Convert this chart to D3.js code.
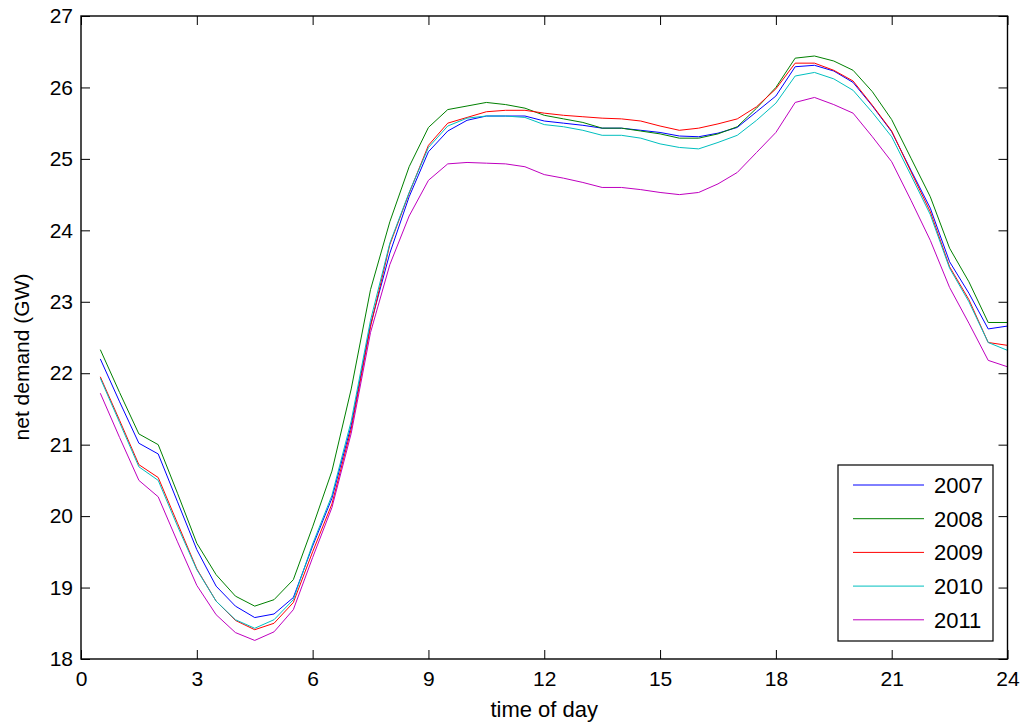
<!DOCTYPE html>
<html>
<head>
<meta charset="utf-8">
<script src="https://cdn.jsdelivr.net/npm/d3@7"></script>
<style>
  html, body { margin: 0; padding: 0; background: #fff; }
  svg { display: block; font-family: "Liberation Sans", Arial, Helvetica, sans-serif; }
</style>
</head>
<body>
<svg id="chart" width="1021" height="724"></svg>
<script>
// ---- data ----
const hours = d3.range(1, 49).map(i => i * 0.5); // 0.5 .. 24
const years = ["2007", "2008", "2009", "2010", "2011"];
const colors = ["#0000ff", "#008000", "#ff0000", "#00bfbf", "#bf00bf"];

const y2007 = [22.20,21.60,21.02,20.87,20.20,19.53,19.02,18.74,18.58,18.63,18.86,19.58,20.25,21.27,22.68,23.68,
  24.47,25.10,25.39,25.54,25.60,25.60,25.60,25.53,25.50,25.47,25.43,25.43,25.40,25.37,25.32,25.31,
  25.36,25.44,25.66,25.88,26.29,26.31,26.23,26.07,25.74,25.38,24.84,24.31,23.56,23.12,22.62,22.66];
const y2008 = [22.33,21.73,21.15,21.00,20.32,19.62,19.18,18.88,18.74,18.83,19.11,19.85,20.63,21.78,23.17,24.12,
  24.89,25.44,25.69,25.74,25.79,25.76,25.71,25.61,25.56,25.51,25.43,25.43,25.39,25.35,25.29,25.29,
  25.35,25.45,25.71,26.00,26.41,26.44,26.37,26.24,25.94,25.55,25.01,24.47,23.75,23.28,22.71,22.71];
const y2009 = [21.95,21.34,20.72,20.54,19.90,19.26,18.81,18.54,18.41,18.50,18.79,19.50,20.17,21.22,22.65,23.80,
  24.52,25.19,25.50,25.58,25.66,25.68,25.68,25.64,25.61,25.59,25.57,25.56,25.53,25.46,25.40,25.43,
  25.49,25.56,25.73,25.98,26.34,26.34,26.24,26.09,25.75,25.39,24.82,24.26,23.49,23.03,22.43,22.39];
const y2010 = [21.93,21.31,20.69,20.50,19.86,19.25,18.81,18.55,18.43,18.55,18.83,19.61,20.29,21.33,22.74,23.82,
  24.53,25.16,25.46,25.57,25.60,25.60,25.58,25.48,25.45,25.40,25.33,25.33,25.29,25.21,25.16,25.14,
  25.23,25.33,25.54,25.78,26.16,26.21,26.12,25.96,25.65,25.31,24.77,24.22,23.47,23.00,22.43,22.32];
const y2011 = [21.72,21.10,20.50,20.27,19.64,19.03,18.62,18.37,18.26,18.38,18.69,19.42,20.12,21.16,22.57,23.52,
  24.20,24.70,24.93,24.95,24.94,24.93,24.89,24.78,24.73,24.67,24.60,24.60,24.57,24.53,24.50,24.53,
  24.65,24.81,25.09,25.37,25.79,25.86,25.76,25.64,25.31,24.96,24.42,23.86,23.20,22.70,22.18,22.09];
const seriesValues = [y2007, y2008, y2009, y2010, y2011];

const xTicks = [0, 3, 6, 9, 12, 15, 18, 21, 24];
const yTicks = [18, 19, 20, 21, 22, 23, 24, 25, 26, 27];
const xLabel = "time of day";
const yLabel = "net demand (GW)";

// ---- layout ----
const W = 1021, H = 724;
const m = { left: 81, top: 16, right: 13.5, bottom: 65 };
const pw = W - m.left - m.right, ph = H - m.top - m.bottom;
const svg = d3.select("#chart");
const g = svg.append("g").attr("transform", `translate(${m.left},${m.top})`);

const x = d3.scaleLinear().domain([0, 24]).range([0, pw]);
const y = d3.scaleLinear().domain([18, 27]).range([ph, 0]);
const fs = 21;
const tl = 9;

// ticks (inward, all four sides)
function styleAxis(sel, showLabels) {
  sel.select(".domain").remove();
  sel.selectAll(".tick line").attr("stroke", "#000").attr("stroke-width", 1);
  if (!showLabels) sel.selectAll(".tick text").remove();
  else sel.selectAll(".tick text").attr("fill", "#000").style("font-size", fs + "px");
}
g.append("g").attr("transform", `translate(0,${ph})`)
  .call(d3.axisBottom(x).tickValues(xTicks).tickSizeInner(-tl).tickSizeOuter(0).tickPadding(12))
  .call(s => styleAxis(s, true));
g.append("g")
  .call(d3.axisTop(x).tickValues(xTicks).tickSizeInner(-tl).tickSizeOuter(0))
  .call(s => styleAxis(s, false));
g.append("g")
  .call(d3.axisLeft(y).tickValues(yTicks).tickSizeInner(-tl).tickSizeOuter(0).tickPadding(8))
  .call(s => styleAxis(s, true));
g.append("g").attr("transform", `translate(${pw},0)`)
  .call(d3.axisRight(y).tickValues(yTicks).tickSizeInner(-tl).tickSizeOuter(0))
  .call(s => styleAxis(s, false));

// lines
const line = d3.line().x((d, i) => x(hours[i])).y(d => y(d));
seriesValues.forEach((vals, k) => {
  g.append("path").datum(vals)
    .attr("fill", "none").attr("stroke", colors[k]).attr("stroke-width", 1)
    .attr("d", line);
});

// frame
g.append("rect").attr("x", 0).attr("y", 0).attr("width", pw).attr("height", ph)
  .attr("fill", "none").attr("stroke", "#000").attr("stroke-width", 1.4);

// axis labels
svg.append("text").attr("x", m.left + pw / 2).attr("y", 717)
  .attr("text-anchor", "middle").style("font-size", "22px").text(xLabel);
svg.append("text").attr("transform", `translate(29,357) rotate(-90)`)
  .attr("text-anchor", "middle").style("font-size", fs + "px").text(yLabel);

// legend
const lg = svg.append("g");
lg.append("rect").attr("x", 838).attr("y", 465).attr("width", 155).attr("height", 176)
  .attr("fill", "#fff").attr("stroke", "#000").attr("stroke-width", 1.2);
years.forEach((yr, k) => {
  const ry = 485 + k * 33.7;
  lg.append("line").attr("x1", 853).attr("x2", 924).attr("y1", ry).attr("y2", ry)
    .attr("stroke", colors[k]).attr("stroke-width", 1);
  lg.append("text").attr("x", 934).attr("y", ry + 8).style("font-size", "22px").text(yr);
});
</script>
</body>
</html>
